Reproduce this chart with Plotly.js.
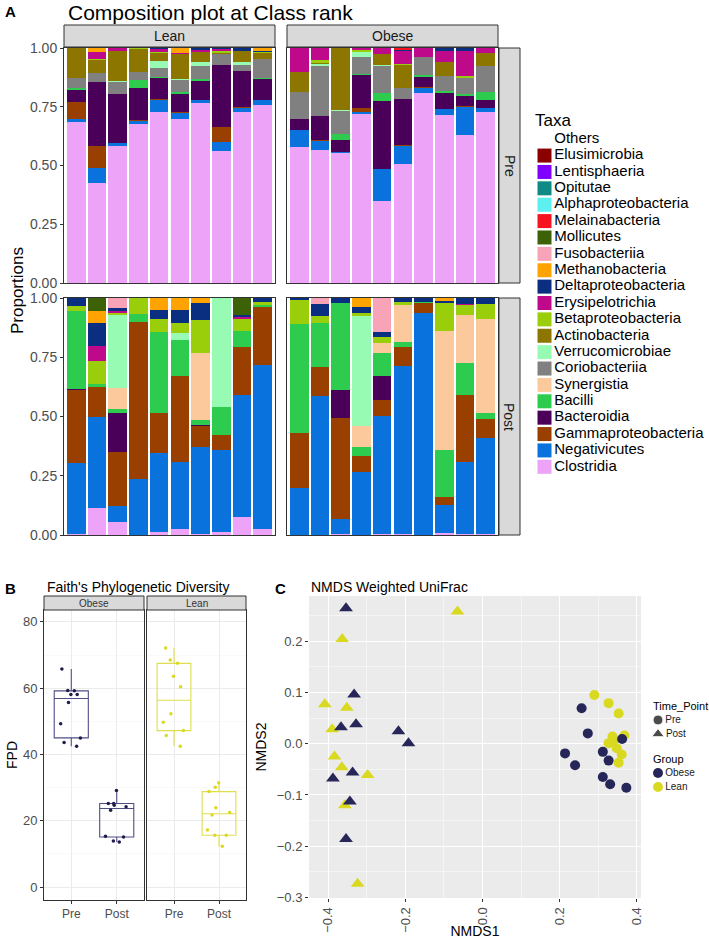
<!DOCTYPE html>
<html><head><meta charset="utf-8">
<script src="https://cdn.plot.ly/plotly-3.0.1.min.js"></script>
<style>html,body{margin:0;padding:0;background:#fff}#chart{width:709px;height:939px}</style>
</head><body><div id="chart"></div>
<script>
// ---------------- Panel A data ----------------
const leanSamples  = ['L1','L2','L3','L4','L5','L6','L7','L8','L9','L10'];
const obeseSamples = ['O1','O2','O3','O4','O5','O6','O7','O8','O9','O10'];
// Legend order (top of stack first)
const taxa = ['Others','Elusimicrobia','Lentisphaeria','Opitutae','Alphaproteobacteria','Melainabacteria',
  'Mollicutes','Fusobacteriia','Methanobacteria','Deltaproteobacteria','Erysipelotrichia','Betaproteobacteria',
  'Actinobacteria','Verrucomicrobiae','Coriobacteriia','Synergistia','Bacilli','Bacteroidia',
  'Gammaproteobacteria','Negativicutes','Clostridia'];
const taxaColors = ['#FFFFFF','#8B0000','#7F00FF','#108A84','#5CF0F0','#F51420',
  '#3D6107','#F9A3B8','#FFA300','#0A2F80','#BE0A8A','#9ACD0A',
  '#8C7600','#98FBB4','#808080','#FBC99C','#2DCC4E','#4A0058',
  '#993F00','#0A72DC','#EDA3F8'];
// 40 values each: Lean-Pre 1..10, Obese-Pre 1..10, Lean-Post 1..10, Obese-Post 1..10
const others        = [0,0,0,0,0,0,0,0,0,0, 0,0,0,0,0,0,0,0,0,0, 0,0,0,0,0,0,0,0,0,0, 0,0,0,0,0,0,0,0,0,0];
const elusimicrobia = [0,0,0,0,0,0,0,0,0,0, 0,0,0,0,0,0,0,0,0,0, 0,0,0,0,0,0,0,0,0,0, 0,0,0,0,0,0,0,0,0,0];
const lentisphaeria = [0,0,0,0,0,0,0,0,0,0, 0,0,0,0,0,0,0,0,0,0, 0,0,0,0,0,0,0,0,0,0, 0,0,0,0,0,0,0,0,0,0];
const opitutae      = [0,0,0,0,0,0,0,0,0,0, 0,0,0,0,0,0,0,0,0,0, 0,0,0,0,0,0,0,0,0,0, 0,0,0,0,0,0,0,0,0,0];
const alphaproteobacteria = [0,0,0,0,0,0,0,0,0,0, 0,0,0,0,0,0,0,0,0,0, 0,0,0,0,0,0,0,0,0,0, 0,0,0,0,0,0,0,0,0,0];
const melainabacteria = [0,0,0,0,0,0,0,0,0,0, 0,0,0,0,0,.008,0,0,0,0, 0,0,0,0,0,0,0,0,0,0, 0,0,0,0,0,0,0,0,0,0];
const mollicutes    = [0,0,0,0,0,0,0,0,0,0, 0,0,0,0,0,0,0,0,0,0, 0,.053,0,0,0,0,0,0,.073,0, 0,0,0,0,0,0,0,0,0,0];
const fusobacteriia = [0,0,0,0,0,0,0,0,0,0, 0,0,0,0,0,0,0,0,0,0, 0,0,.044,0,0,0,0,0,0,0, 0,.025,0,0,.142,0,0,0,0,0];
const methanobacteria = [0,.018,0,0,0,.02,0,0,0,.012, 0,0,0,0,0,0,0,0,0,0, 0,.051,0,0,.051,.051,.02,0,0,0, 0,0,0,.037,0,0,0,.011,0,0];
const deltaproteobacteria = [0,0,0,0,.005,0,.008,.004,.011,.006, 0,0,0,0,0,.006,0,.011,.011,0, .034,.097,.012,0,.038,.056,.073,0,.008,.015, .008,.051,.02,.028,.021,.015,.015,.012,.026,.025];
const erysipelotrichia = [0,.03,.014,0,.014,.005,.008,.009,0,0, .101,.053,0,.01,.024,.054,.037,.047,.11,.02, 0,.063,.009,0,0,0,0,0,.008,0, 0,0,0,0,0,0,0,0,.004,0];
const betaproteobacteria = [0,.005,0,.005,.004,0,0,.009,0,.005, 0,.01,0,.006,.003,.004,0,0,.005,.003, .019,.1,.007,.068,.056,.042,.14,0,.049,.014, .103,.031,0,.011,.028,.015,0,.115,.042,.064];
const actinobacteria = [.126,.055,.127,.096,.031,.107,.042,.005,.047,.025, .085,.004,.263,0,.046,.1,0,.061,0,.052, 0,0,0,0,0,0,0,0,0,0, 0,0,0,0,0,0,0,0,0,0];
const verrucomicrobiae = [0,0,.005,0,.033,.004,.019,0,.014,0, 0,.008,.004,.021,.004,0,0,0,0,0, 0,0,.309,0,0,.028,0,.461,0,0, 0,0,0,.464,0,0,0,0,0,0];
const coriobacteriia = [.046,.035,.05,.035,.035,.05,.055,.045,.024,.078, .116,.214,.1,.074,.116,.044,.079,.064,.07,.111, 0,0,0,0,0,0,0,0,0,0, 0,0,0,0,0,0,0,0,0,0];
const synergistia   = [0,0,0,0,0,0,0,0,0,0, 0,0,0,0,0,0,0,0,0,0, 0,0,.087,0,0,0,.282,0,0,0, 0,0,0,.087,.042,.154,0,.503,.204,.398];
const bacilli       = [.007,0,0,.036,.007,.01,.008,0,0,.007, 0,0,.024,.004,.031,0,.006,.01,.008,.035, .333,.013,.019,.032,.342,.152,.021,.117,.07,.01, .457,.183,.368,.038,.096,.024,.008,.197,.133,.024];
const bacteroidia   = [.049,.274,.21,.134,.089,.075,.081,.266,.157,.088, .047,.103,.051,.141,.291,.197,.043,.065,.043,.036, .004,0,.161,0,0,0,.004,0,0,0, 0,0,.12,0,.101,0,0,0,0,0];
const gammaproteobacteria = [.072,.092,0,.005,.003,.004,0,.063,.004,0, 0,.004,0,.015,0,.004,.004,.003,.005,0, .305,.124,.23,.665,.168,.362,.087,.063,.201,.244, .235,.124,.424,.068,.068,.079,.039,.035,.282,.081];
const negativicutes = [.013,.067,.011,.014,.05,.029,.012,.036,.014,.023, .074,.038,.003,.01,.136,.077,.024,.024,.118,.014, .301,.386,.066,.233,.334,.285,.37,.345,.514,.693, .195,.584,.064,.265,.498,.71,.936,.12,.304,.402];
const clostridia    = [.687,.424,.583,.675,.729,.696,.767,.563,.729,.756, .577,.566,.555,.719,.349,.506,.807,.715,.63,.729, .004,.113,.056,.002,.011,.024,.003,.014,.077,.024, .002,.002,.004,.002,.004,.003,.002,.007,.005,.006];

// ---------------- Panel B data (Faith's PD) ----------------
const timePoints = ['Pre','Post'];
const obeseFpdPre  = [65.8,59.2,59.3,58.1,58.1,55.7,49.3,45.0,42.5,43.6];
const obeseFpdPost = [25.2,25.2,24.2,24.7,23.2,29.1,15.1,15.3,13.9,13.6];
const leanFpdPre   = [68.5,72.1,67.5,63.6,60.4,52.3,49.7,47.2,45.7,42.5];
const leanFpdPost  = [31.5,30.1,28.8,23.9,22.5,21.7,17.2,15.6,15.6,12.3];

// ---------------- Panel C data (NMDS) ----------------
const obesePreX  = [0.257,0.273,0.214,0.240,0.312,0.327,0.362,0.312,0.331,0.373];
const obesePreY  = [0.069,0.020,-0.019,-0.042,-0.016,-0.033,0.009,-0.065,-0.079,-0.086];
const obesePostX = [-0.354,-0.333,-0.367,-0.328,-0.218,-0.192,-0.388,-0.337,-0.344,-0.354];
const obesePostY = [0.264,0.096,0.032,0.038,0.024,0.001,-0.068,-0.056,-0.113,-0.186];
const leanPreX   = [0.290,0.327,0.353,0.337,0.368,0.327,0.348,0.361,0.353,0.340];
const leanPreY   = [0.095,0.079,0.059,0.014,0.016,0.001,-0.009,-0.021,-0.037,0.006];
const leanPostX  = [-0.065,-0.364,-0.409,-0.352,-0.390,-0.384,-0.365,-0.298,-0.357,-0.324];
const leanPostY  = [0.258,0.204,0.077,0.070,0.028,-0.025,-0.046,-0.061,-0.120,-0.273];
const timeLegend  = ['Pre','Post'];
const groupLegend = ['Obese','Lean'];
const obeseColor = '#272659';
const leanColor  = '#D9D921';

// ---------------- build ----------------
const W = 709, H = 939;
const px = v => v / W;
const py = v => 1 - v / H;
const FONT = 'Liberation Sans, Arial, sans-serif';
const TICK = '#4D4D4D';

const taxaValues = [others, elusimicrobia, lentisphaeria, opitutae, alphaproteobacteria, melainabacteria,
  mollicutes, fusobacteriia, methanobacteria, deltaproteobacteria, erysipelotrichia, betaproteobacteria,
  actinobacteria, verrucomicrobiae, coriobacteriia, synergistia, bacilli, bacteroidia,
  gammaproteobacteria, negativicutes, clostridia];

const facets = [
  {ids: leanSamples,  from: 0,  xa: 'x',  ya: 'y'},
  {ids: obeseSamples, from: 10, xa: 'x2', ya: 'y2'},
  {ids: leanSamples,  from: 20, xa: 'x3', ya: 'y3'},
  {ids: obeseSamples, from: 30, xa: 'x4', ya: 'y4'}
];

const traces = [];
for (let t = taxa.length - 1; t >= 0; t--) {
  facets.forEach(f => {
    traces.push({
      type: 'bar', name: taxa[t], x: f.ids, y: taxaValues[t].slice(f.from, f.from + 10),
      xaxis: f.xa, yaxis: f.ya, marker: {color: taxaColors[t], line: {width: 0}},
      showlegend: false, hoverinfo: 'name+y'
    });
  });
}

// Taxa legend keys drawn on a hidden categorical axis
traces.push({
  type: 'scatter', mode: 'markers+text', x: taxa.map(() => 0), y: taxa,
  text: taxa, textposition: 'middle right', cliponaxis: false,
  textfont: {size: 15, color: '#000', family: FONT},
  marker: {symbol: 'square', size: 14, color: taxaColors, line: {width: 0}},
  xaxis: 'x8', yaxis: 'y8', showlegend: false, hoverinfo: 'skip'
});

// Panel B boxes
function boxTrace(pre, post, xa, ya, lineColor, ptColor) {
  return {
    type: 'box', x: pre.map(() => timePoints[0]).concat(post.map(() => timePoints[1])),
    y: pre.concat(post), xaxis: xa, yaxis: ya,
    boxpoints: 'all', jitter: 0.75, pointpos: 0, whiskerwidth: 0,
    fillcolor: 'rgba(255,255,255,0)', line: {color: lineColor, width: 1.1},
    marker: {color: ptColor, size: 3.5}, showlegend: false, hoverinfo: 'y'
  };
}
traces.push(boxTrace(obeseFpdPre, obeseFpdPost, 'x5', 'y5', '#4F4E85', '#1E1B4B'));
traces.push(boxTrace(leanFpdPre, leanFpdPost, 'x6', 'y6', '#DEDE4E', '#DADA22'));

// Panel C scatter
traces.push({type:'scatter', mode:'markers', name:'Lean Pre', x: leanPreX, y: leanPreY, xaxis:'x7', yaxis:'y7',
  marker:{symbol:'circle', size:10, color: leanColor}, showlegend:false});
traces.push({type:'scatter', mode:'markers', name:'Lean Post', x: leanPostX, y: leanPostY, xaxis:'x7', yaxis:'y7',
  marker:{symbol:'triangle-up', size:12, color: leanColor}, showlegend:false});
traces.push({type:'scatter', mode:'markers', name:'Obese Pre', x: obesePreX, y: obesePreY, xaxis:'x7', yaxis:'y7',
  marker:{symbol:'circle', size:10, color: obeseColor}, showlegend:false});
traces.push({type:'scatter', mode:'markers', name:'Obese Post', x: obesePostX, y: obesePostY, xaxis:'x7', yaxis:'y7',
  marker:{symbol:'triangle-up', size:12, color: obeseColor}, showlegend:false});

// Panel C legends (hidden categorical axes)
traces.push({type:'scatter', mode:'markers+text', x: timeLegend.map(() => 0), y: timeLegend, text: timeLegend,
  textposition:'middle right', cliponaxis:false, textfont:{size:10, color:'#1a1a1a'},
  marker:{symbol:['circle','triangle-up'], size:[10,11], color:'#000'}, xaxis:'x9', yaxis:'y9', showlegend:false, hoverinfo:'skip'});
traces.push({type:'scatter', mode:'markers+text', x: groupLegend.map(() => 0), y: groupLegend, text: groupLegend,
  textposition:'middle right', cliponaxis:false, textfont:{size:10, color:'#1a1a1a'},
  marker:{symbol:'circle', size:10, color:[obeseColor, leanColor]}, xaxis:'x10', yaxis:'y10', showlegend:false, hoverinfo:'skip'});

// ---------------- axes ----------------
const border = {showline: true, mirror: true, linecolor: '#333333', linewidth: 1};
function barX(d0, d1, anchor) {
  return Object.assign({domain: [px(d0), px(d1)], anchor: anchor, type: 'category', range: [-0.6, 9.6],
    showticklabels: false, ticks: '', showgrid: false, zeroline: false, fixedrange: true}, border);
}
function barY(d0, d1, anchor, labels) {
  return Object.assign({domain: [py(d1), py(d0)], anchor: anchor, range: [0, 1], tickvals: [0, .25, .5, .75, 1],
    tickformat: '.2f', showticklabels: labels, ticks: labels ? 'outside' : '', ticklen: 3, tickcolor: '#333333',
    tickfont: {size: 14, color: TICK}, showgrid: false, zeroline: false, fixedrange: true}, border);
}
const A_L = [64, 275], A_O = [287, 498], A_PRE = [48, 283], A_POST = [298, 535];
const B_O = [44, 144], B_L = [147, 246], B_Y = [610, 900];
const C_X = [309, 641], C_Y = [596, 898];

function boxX(d, anchor) {
  return Object.assign({domain: [px(d[0]), px(d[1])], anchor: anchor, type: 'category', categoryarray: timePoints,
    categoryorder: 'array', range: [-0.6, 1.6], ticks: 'outside', ticklen: 3, tickcolor: '#333333',
    tickfont: {size: 12, color: TICK}, showgrid: true, gridcolor: '#EBEBEB', zeroline: false}, border);
}
function boxY(anchor, labels) {
  return Object.assign({domain: [py(B_Y[1]), py(B_Y[0])], anchor: anchor, range: [-3.92, 83.6], tick0: 0, dtick: 20,
    showticklabels: labels, ticks: labels ? 'outside' : '', ticklen: 3, tickcolor: '#333333',
    tickfont: {size: 13, color: TICK}, showgrid: true, gridcolor: '#EBEBEB', zeroline: false,
    minor: {dtick: 10, tick0: 0, showgrid: true, gridcolor: '#F5F5F5', gridwidth: 0.6}}, border);
}
function hiddenX(d0, d1, anchor) {
  return {domain: [px(d0), px(d1)], anchor: anchor, range: [-1, 1], visible: false, fixedrange: true};
}
function hiddenY(top, bottom, anchor, cats) {
  return {domain: [py(bottom), py(top)], anchor: anchor, type: 'category', categoryorder: 'array',
    categoryarray: cats, range: [-0.5, cats.length - 0.5], visible: false, fixedrange: true};
}

const layout = {
  width: W, height: H, margin: {l: 0, r: 0, t: 0, b: 0},
  paper_bgcolor: '#FFFFFF', plot_bgcolor: 'rgba(0,0,0,0)',
  font: {family: FONT, color: '#000000'},
  showlegend: false, barmode: 'stack', bargap: 0.1, boxgap: 0.25, boxgroupgap: 0, hovermode: 'closest',
  title: {text: 'Composition plot at Class rank', x: px(68), xref: 'paper', xanchor: 'left',
    y: py(13), yref: 'paper', yanchor: 'middle', font: {size: 21, color: '#000'}},
  xaxis: barX(A_L[0], A_L[1], 'y'),   yaxis: barY(A_PRE[0], A_PRE[1], 'x', true),
  xaxis2: barX(A_O[0], A_O[1], 'y2'), yaxis2: barY(A_PRE[0], A_PRE[1], 'x2', false),
  xaxis3: barX(A_L[0], A_L[1], 'y3'), yaxis3: barY(A_POST[0], A_POST[1], 'x3', true),
  xaxis4: barX(A_O[0], A_O[1], 'y4'), yaxis4: barY(A_POST[0], A_POST[1], 'x4', false),
  xaxis5: boxX(B_O, 'y5'), yaxis5: Object.assign(boxY('x5', true), {title: {text: 'FPD', font: {size: 14}, standoff: 2}}),
  xaxis6: boxX(B_L, 'y6'), yaxis6: boxY('x6', false),
  xaxis7: {domain: [px(C_X[0]), px(C_X[1])], anchor: 'y7', range: [-0.45, 0.411], tick0: 0, dtick: 0.2,
    tickformat: '.1f', tickangle: -90, ticks: 'outside', ticklen: 3, tickcolor: '#333333',
    tickfont: {size: 13, color: TICK}, showgrid: true, gridcolor: '#FFFFFF', gridwidth: 1.1, zeroline: false,
    minor: {dtick: 0.1, tick0: 0, showgrid: true, gridcolor: '#FFFFFF', gridwidth: 0.5},
    title: {text: 'NMDS1', font: {size: 14}, standoff: 4}},
  yaxis7: {domain: [py(C_Y[1]), py(C_Y[0])], anchor: 'x7', range: [-0.301, 0.288], tick0: 0, dtick: 0.1,
    tickformat: '.1f', ticks: 'outside', ticklen: 3, tickcolor: '#333333',
    tickfont: {size: 13, color: TICK}, showgrid: true, gridcolor: '#FFFFFF', gridwidth: 1.1, zeroline: false,
    minor: {dtick: 0.05, tick0: 0, showgrid: true, gridcolor: '#FFFFFF', gridwidth: 0.5},
    title: {text: 'NMDS2', font: {size: 14}, standoff: 6}},
  // hidden axes for legends
  xaxis8: hiddenX(530, 559, 'y8'),  yaxis8: hiddenY(131, 475, 'x8', taxa.slice().reverse()),
  xaxis9: hiddenX(648, 668, 'y9'),  yaxis9: hiddenY(713, 741, 'x9', timeLegend.slice().reverse()),
  xaxis10: hiddenX(648, 668, 'y10'), yaxis10: hiddenY(766, 794, 'x10', groupLegend.slice().reverse()),
  shapes: [],
  annotations: []
};

const strip = {type: 'rect', xref: 'paper', yref: 'paper', fillcolor: '#D9D9D9', line: {color: '#333333', width: 1}, layer: 'above'};
layout.shapes.push(
  {type: 'rect', xref: 'x7 domain', yref: 'y7 domain', x0: 0, x1: 1, y0: 0, y1: 1, fillcolor: '#EBEBEB', line: {width: 0}, layer: 'below'},
  Object.assign({x0: px(A_L[0]), x1: px(A_L[1]), y0: py(47), y1: py(25)}, strip),
  Object.assign({x0: px(A_O[0]), x1: px(A_O[1]), y0: py(47), y1: py(25)}, strip),
  Object.assign({x0: px(499), x1: px(520), y0: py(A_PRE[1]), y1: py(A_PRE[0])}, strip),
  Object.assign({x0: px(499), x1: px(520), y0: py(A_POST[1]), y1: py(A_POST[0])}, strip),
  Object.assign({x0: px(B_O[0]), x1: px(B_O[1]), y0: py(610), y1: py(596)}, strip),
  Object.assign({x0: px(B_L[0]), x1: px(B_L[1]), y0: py(610), y1: py(596)}, strip)
);

function ann(text, x, y, opts) {
  return Object.assign({text: text, x: px(x), y: py(y), xref: 'paper', yref: 'paper', showarrow: false,
    xanchor: 'center', yanchor: 'middle'}, opts || {});
}
layout.annotations.push(
  ann('<b>A</b>', 3, 11, {xanchor: 'left', font: {size: 15}}),
  ann('Lean', (A_L[0] + A_L[1]) / 2, 36, {font: {size: 14, color: '#1A1A1A'}}),
  ann('Obese', (A_O[0] + A_O[1]) / 2, 36, {font: {size: 14, color: '#1A1A1A'}}),
  ann('Pre', 509.5, (A_PRE[0] + A_PRE[1]) / 2, {textangle: 90, font: {size: 14, color: '#1A1A1A'}}),
  ann('Post', 509.5, (A_POST[0] + A_POST[1]) / 2, {textangle: 90, font: {size: 14, color: '#1A1A1A'}}),
  ann('Proportions', 18, 291, {textangle: -90, font: {size: 17}}),
  ann('Taxa', 533, 120, {xanchor: 'left', font: {size: 17}}),
  ann('<b>B</b>', 3, 588, {xanchor: 'left', font: {size: 15}}),
  ann("Faith's Phylogenetic Diversity", 45, 587, {xanchor: 'left', font: {size: 14}}),
  ann('Obese', (B_O[0] + B_O[1]) / 2, 603, {font: {size: 10, color: '#333333'}}),
  ann('Lean', (B_L[0] + B_L[1]) / 2, 603, {font: {size: 10, color: '#333333'}}),
  ann('<b>C</b>', 273, 588, {xanchor: 'left', font: {size: 15}}),
  ann('NMDS Weighted UniFrac', 309, 587, {xanchor: 'left', font: {size: 14}}),
  ann('Time_Point', 651, 706, {xanchor: 'left', font: {size: 11}}),
  ann('Group', 651, 759, {xanchor: 'left', font: {size: 11}})
);

Plotly.newPlot('chart', traces, layout, {staticPlot: true, displayModeBar: false});
</script>
</body></html>
